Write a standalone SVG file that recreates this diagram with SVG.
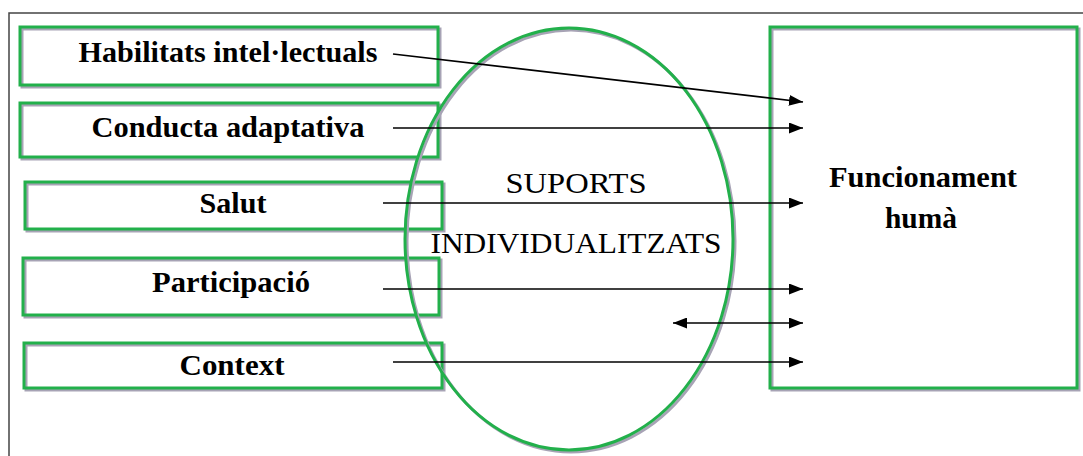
<svg xmlns="http://www.w3.org/2000/svg" width="1083" height="456" viewBox="0 0 1083 456">
<style>
.sh{fill:none;stroke:#a7a3b5;stroke-width:3}
.bx{fill:none;stroke:#22b04b;stroke-width:3}
.lb{font-family:'Liberation Serif','Times New Roman',serif;font-weight:bold;font-size:29px;fill:#000;text-anchor:middle}
.sp{font-family:'Liberation Serif','Times New Roman',serif;font-weight:normal;font-size:29px;fill:#000;text-anchor:middle}
.ln{stroke:#000;stroke-width:1.7;fill:none}
</style>
<defs>
<marker id="ah" viewBox="0 0 14 11" refX="14" refY="5.5" markerWidth="14" markerHeight="11" markerUnits="userSpaceOnUse" orient="auto-start-reverse">
<path d="M0,0 L14,5.5 L0,11 Z" fill="#000"/>
</marker>
</defs>
<rect width="1083" height="456" fill="#fff"/>
<path d="M9,456 V13 H1083" fill="none" stroke="#444" stroke-width="1.5"/>
<g id="n-habilitats">
<rect class="sh" x="22" y="29" width="418" height="58"/>
<rect class="bx" x="20" y="27" width="418" height="58" fill="#fff"/>
</g>
<g id="n-conducta">
<rect class="sh" x="22" y="105" width="418" height="54"/>
<rect class="bx" x="20" y="103" width="418" height="54" fill="#fff"/>
</g>
<g id="n-salut">
<rect class="sh" x="27" y="184" width="417" height="47"/>
<rect class="bx" x="25" y="182" width="417" height="47" fill="#fff"/>
</g>
<g id="n-participacio">
<rect class="sh" x="25" y="260" width="416" height="57"/>
<rect class="bx" x="23" y="258" width="416" height="57" fill="#fff"/>
</g>
<g id="n-context">
<rect class="sh" x="26" y="345" width="418" height="45"/>
<rect class="bx" x="24" y="343" width="418" height="45" fill="#fff"/>
</g>
<g id="n-funcionament">
<rect class="sh" x="772" y="29" width="307" height="361"/>
<rect class="bx" x="770" y="27" width="307" height="361" fill="#fff"/>
</g>
<g id="n-suports">
<ellipse cx="571" cy="241" rx="164" ry="211" fill="none" stroke="#a7a3b5" stroke-width="3"/>
<ellipse cx="569" cy="239" rx="164" ry="211" fill="none" stroke="#22b04b" stroke-width="3"/>
</g>
<g id="connectors">
<line class="ln" x1="393" y1="54" x2="803" y2="102" marker-end="url(#ah)"/>
<line class="ln" x1="393" y1="128" x2="803" y2="128" marker-end="url(#ah)"/>
<line class="ln" x1="383" y1="203" x2="803" y2="203" marker-end="url(#ah)"/>
<line class="ln" x1="383" y1="289" x2="803" y2="289" marker-end="url(#ah)"/>
<line class="ln" x1="673" y1="323" x2="803" y2="323" marker-start="url(#ah)" marker-end="url(#ah)"/>
<line class="ln" x1="393" y1="362" x2="803" y2="362" marker-end="url(#ah)"/>
</g>
<g id="labels">
<text class="lb" x="228" y="62" textLength="299" lengthAdjust="spacingAndGlyphs">Habilitats intel·lectuals</text>
<text class="lb" x="228" y="137" textLength="273" lengthAdjust="spacingAndGlyphs">Conducta adaptativa</text>
<text class="lb" x="233" y="213" textLength="67" lengthAdjust="spacingAndGlyphs">Salut</text>
<text class="lb" x="231" y="292" textLength="158" lengthAdjust="spacingAndGlyphs">Participació</text>
<text class="lb" x="232" y="375" textLength="105" lengthAdjust="spacingAndGlyphs">Context</text>
<text class="lb" x="923" y="187" textLength="188" lengthAdjust="spacingAndGlyphs">Funcionament</text>
<text class="lb" x="921" y="228" textLength="72" lengthAdjust="spacingAndGlyphs">humà</text>
<text class="sp" x="576" y="193" textLength="141" lengthAdjust="spacingAndGlyphs">SUPORTS</text>
<text class="sp" x="576" y="253" textLength="291" lengthAdjust="spacingAndGlyphs">INDIVIDUALITZATS</text>
</g>
</svg>
